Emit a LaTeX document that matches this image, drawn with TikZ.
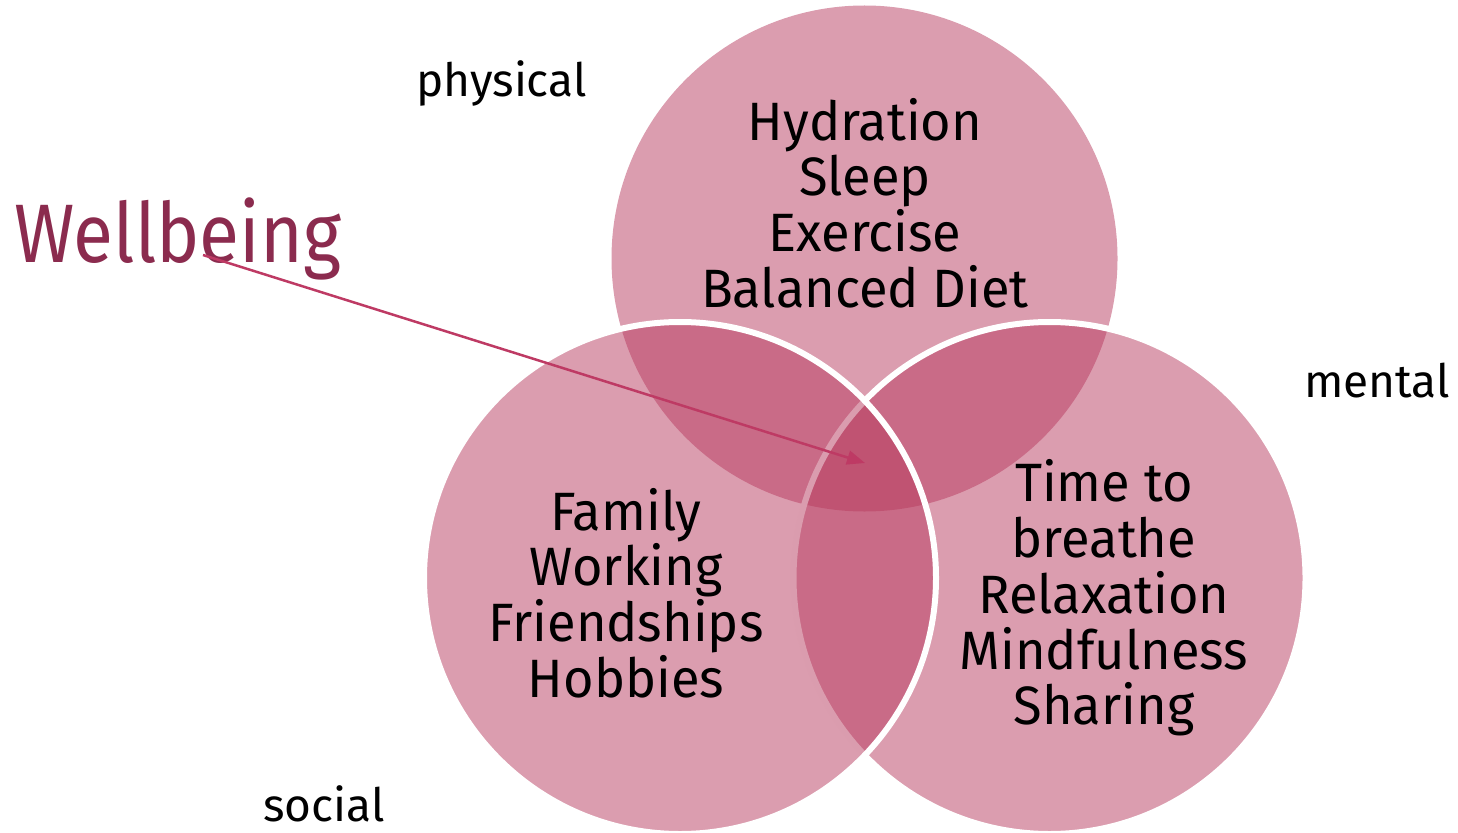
\documentclass[tikz,border=0pt]{standalone}
\usepackage{fontspec}
\setmainfont{Fira Sans}
\newfontfamily\bodyfont{Fira Sans}[FakeStretch=0.97]
\newfontfamily\wellfont{Fira Sans}[FakeStretch=0.88]
\usetikzlibrary{arrows.meta}
\definecolor{pinkfill}{RGB}{183,59,95}
\definecolor{wellc}{RGB}{139,43,78}
\definecolor{arrowc}{RGB}{190,58,100}
\begin{document}
\begin{tikzpicture}[x=1pt,y=-1pt,
  circ/.style={circle, minimum size=512pt, inner sep=0pt, fill=pinkfill, fill opacity=0.5, draw=white, draw opacity=1, line width=6pt},
  topcirc/.style={circle, minimum size=506pt, inner sep=0pt, fill=pinkfill, fill opacity=0.5},
  body/.style={align=center, font=\bodyfont\fontsize{54}{55.7}\selectfont, inner sep=0pt, text=black},
  lbl/.style={font=\fontsize{46}{50}\selectfont, inner sep=0pt, text=black},
  pointer/.style={draw=arrowc, line width=2.5pt, -{Triangle[length=18pt,width=14pt]}}
]
\useasboundingbox (0,0) rectangle (1458,832);
\node[topcirc] (phys) at (864.5,258.5) {};
\node[circ] (ment) at (1049.5,578) {};
\node[circ] (soc) at (680,578) {};

\node[body] (tphys) at (865,203) {Hydration\\Sleep\\Exercise\\Balanced Diet};
\node[body] (tsoc) at (626,593) {Family\\Working\\Friendships\\Hobbies};
\node[body] (tment) at (1104,598) {Time to\\breathe\\Relaxation\\Mindfulness\\Sharing};

\node[lbl, anchor=base west] (lphys) at (416,97) {physical};
\node[lbl, anchor=base west] (lment) at (1304,397) {mental};
\node[lbl, anchor=base west] (lsoc) at (263,821) {social};
\node[anchor=base west, inner sep=0pt, text=wellc, font=\wellfont\fontsize{83}{90}\selectfont] (well) at (14,262) {Wellbeing};

\coordinate (as) at (203,255);
\coordinate (ae) at (865,463);
\draw[pointer] (as) -- (ae);
\end{tikzpicture}
\end{document}
